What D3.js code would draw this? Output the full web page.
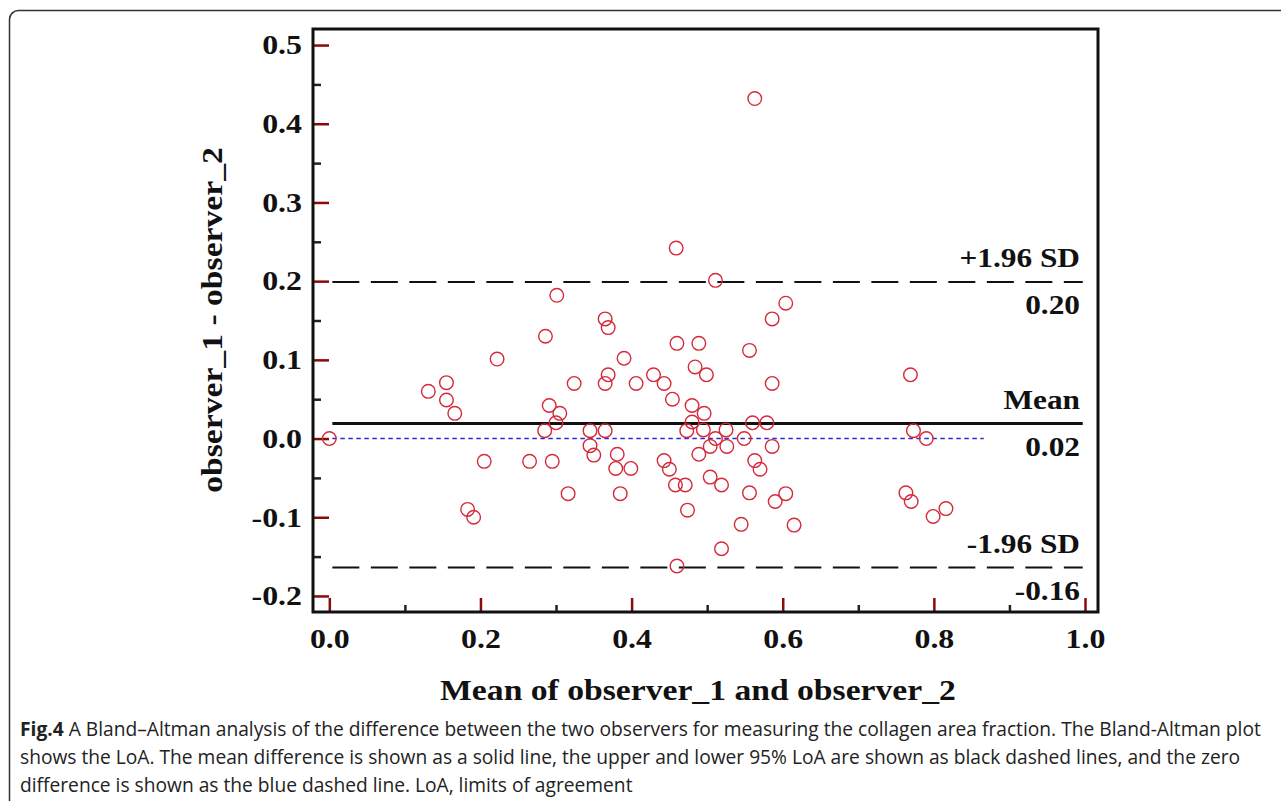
<!DOCTYPE html>
<html>
<head>
<meta charset="utf-8">
<script src="https://cdn.jsdelivr.net/npm/d3@7"></script>
<style>
  body { margin: 0; background: #fff; }
  svg { display: block; }
</style>
</head>
<body>
<svg id="chart" width="1281" height="801"></svg>
<script>
// mean of the two observers (x) and their difference (y)
var meanVals = [0.000, 0.131, 0.155, 0.155, 0.166, 0.222, 0.205, 0.183, 0.191, 0.301,
                0.286, 0.365, 0.369, 0.390, 0.324, 0.369, 0.365, 0.406, 0.429, 0.443,
                0.291, 0.305, 0.300, 0.285, 0.345, 0.365, 0.345, 0.350, 0.265, 0.295,
                0.381, 0.379, 0.399, 0.443, 0.450, 0.316, 0.385, 0.460, 0.489, 0.556,
                0.484, 0.499, 0.586, 0.454, 0.480, 0.496, 0.480, 0.473, 0.495, 0.525,
                0.560, 0.579, 0.511, 0.504, 0.526, 0.549, 0.586, 0.489, 0.563, 0.570,
                0.458, 0.471, 0.504, 0.519, 0.556, 0.590, 0.604, 0.474, 0.545, 0.519,
                0.460, 0.563, 0.459, 0.511, 0.604, 0.586, 0.769, 0.773, 0.790, 0.615,
                0.763, 0.770, 0.799, 0.816];
var diffVals = [0.000, 0.060, 0.071, 0.049, 0.032, 0.101, -0.029, -0.090, -0.100, 0.182,
                0.130, 0.152, 0.141, 0.102, 0.070, 0.081, 0.070, 0.070, 0.081, 0.070,
                0.042, 0.032, 0.020, 0.010, 0.010, 0.010, -0.009, -0.021, -0.029, -0.029,
                -0.020, -0.038, -0.038, -0.028, -0.039, -0.070, -0.070, 0.121, 0.121, 0.112,
                0.091, 0.081, 0.070, 0.050, 0.042, 0.032, 0.021, 0.010, 0.011, 0.011,
                0.020, 0.020, 0.000, -0.010, -0.010, 0.000, -0.010, -0.020, -0.028, -0.039,
                -0.059, -0.059, -0.049, -0.059, -0.069, -0.080, -0.070, -0.091, -0.109, -0.140,
                -0.162, 0.432, 0.242, 0.201, 0.172, 0.152, 0.081, 0.010, 0.000, -0.110,
                -0.069, -0.080, -0.099, -0.089];

// reference lines: value, label, printed value
var refNames  = ['+1.96 SD', 'Mean', '-1.96 SD'];
var refVals   = [0.199, 0.019, -0.164];
var refLabels = ['0.20', '0.02', '-0.16'];
var lineExtent = [0.004, 0.997];
var zeroExtent = [0.004, 0.866];

var xTicks = [0.0, 0.2, 0.4, 0.6, 0.8, 1.0];
var xMinor = [0.1, 0.3, 0.5, 0.7, 0.9];
var yTicks = [-0.2, -0.1, 0.0, 0.1, 0.2, 0.3, 0.4, 0.5];
var yMinor = [-0.15, -0.05, 0.05, 0.15, 0.25, 0.35, 0.45];

var xTitle = 'Mean of observer_1 and observer_2';
var yTitle = 'observer_1 - observer_2';

var serif = '"Liberation Serif", "Times New Roman", serif';
var stretch = 1.16;   // the figure's serif text is a bit wide

var svg = d3.select('#chart');

// outer figure border
svg.append('rect')
   .attr('x', 9.5).attr('y', 10.5)
   .attr('width', 1300).attr('height', 820)
   .attr('rx', 9)
   .attr('fill', 'none')
   .attr('stroke', '#333')
   .attr('stroke-width', 1.5);

var pLeft = 313, pRight = 1098, pTop = 29, pBottom = 612;

var x = d3.scaleLinear().domain([-0.0216, 1.0172]).range([pLeft, pRight]);
var y = d3.scaleLinear().domain([-0.2204, 0.5204]).range([pBottom, pTop]);

var plot = svg.append('g');

// plain hyphen for negatives, like the figure
var fmt = function(d) { return d3.format('.1f')(d).replace('\u2212', '-'); };

// widen serif text horizontally
function widen(sel) {
   sel.each(function() {
      var w = this.getComputedTextLength();
      d3.select(this).attr('textLength', w * stretch).attr('lengthAdjust', 'spacingAndGlyphs');
   });
}

function serifText(sel, size) {
   return sel.attr('font-family', serif).attr('font-weight', 'bold')
             .attr('font-size', size).attr('fill', '#111');
}

// ticks, pointing inward
function tickLines(axis, vals, len, color) {
   var g = plot.append('g').call(axis.tickValues(vals).tickSize(-len).tickFormat(''));
   g.select('.domain').remove();
   g.selectAll('line').attr('stroke', color).attr('stroke-width', 2.5);
   return g;
}
tickLines(d3.axisLeft(y), yTicks, 16, '#8b0a0a').attr('transform', 'translate(' + pLeft + ',0)');
tickLines(d3.axisLeft(y), yMinor, 8, '#222').attr('transform', 'translate(' + pLeft + ',0)');
tickLines(d3.axisBottom(x), xTicks, 14, '#8b0a0a').attr('transform', 'translate(0,' + pBottom + ')');
tickLines(d3.axisBottom(x), xMinor, 7, '#222').attr('transform', 'translate(0,' + pBottom + ')');

// tick labels
var yAxis = plot.append('g')
   .attr('transform', 'translate(' + pLeft + ',0)')
   .call(d3.axisLeft(y).tickValues(yTicks).tickSize(0).tickPadding(11).tickFormat(fmt));
yAxis.select('.domain').remove();
serifText(yAxis.selectAll('text'), 27.5).call(widen);

var xAxis = plot.append('g')
   .attr('transform', 'translate(0,' + pBottom + ')')
   .call(d3.axisBottom(x).tickValues(xTicks).tickSize(0).tickPadding(16).tickFormat(fmt));
xAxis.select('.domain').remove();
serifText(xAxis.selectAll('text'), 27.5).call(widen);

// reference lines
plot.selectAll('.ref')
   .data(refVals)
   .enter()
   .append('line')
      .attr('class', 'ref')
      .attr('x1', x(lineExtent[0]))
      .attr('x2', x(lineExtent[1]))
      .attr('y1', function(d){return y(d)})
      .attr('y2', function(d){return y(d)})
      .attr('stroke', '#111')
      .attr('stroke-width', function(d, i){return i == 1 ? 3 : 2})
      .attr('stroke-dasharray', function(d, i){return i == 1 ? null : '27,11.5'});

plot.append('line')
   .attr('x1', x(zeroExtent[0])).attr('x2', x(zeroExtent[1]))
   .attr('y1', y(0)).attr('y2', y(0))
   .attr('stroke', '#2a2ad8')
   .attr('stroke-width', 1.6)
   .attr('stroke-dasharray', '4.5,3.5');

// labels above and below each line
refNames.forEach(function(name, i) {
   serifText(plot.append('text'), 27)
      .attr('x', 1080).attr('y', y(refVals[i]) - 15)
      .attr('text-anchor', 'end')
      .text(name)
      .call(widen);
   serifText(plot.append('text'), 27)
      .attr('x', 1080).attr('y', y(refVals[i]) + 32)
      .attr('text-anchor', 'end')
      .text(refLabels[i])
      .call(widen);
});

// data points
plot.selectAll('circle')
   .data(meanVals)
   .enter()
   .append('circle')
      .attr('cx', function(d){return x(d)})
      .attr('cy', function(d, i){return y(diffVals[i])})
      .attr('r', 6.8)
      .attr('fill', 'none')
      .attr('stroke', '#d42a3a')
      .attr('stroke-width', 1.4);

// frame
plot.append('rect')
   .attr('x', pLeft).attr('y', pTop)
   .attr('width', pRight - pLeft).attr('height', pBottom - pTop)
   .attr('fill', 'none')
   .attr('stroke', '#111')
   .attr('stroke-width', 3);

// axis titles
serifText(svg.append('text'), 29)
   .attr('x', 698).attr('y', 700)
   .attr('text-anchor', 'middle')
   .text(xTitle)
   .call(widen);

serifText(svg.append('text'), 29)
   .attr('transform', 'translate(222,320) rotate(-90)')
   .attr('text-anchor', 'middle')
   .text(yTitle)
   .call(widen);

// caption
var caption = [
   [['Fig.4', true], [' A Bland\u2013Altman analysis of the difference between the two observers for measuring the collagen area fraction. The Bland-Altman plot', false]],
   [['shows the LoA. The mean difference is shown as a solid line, the upper and lower 95% LoA are shown as black dashed lines, and the zero', false]],
   [['difference is shown as the blue dashed line. LoA, limits of agreement', false]]
];
var cap = svg.append('g')
   .attr('font-family', '"Open Sans", "Noto Sans", sans-serif')
   .attr('font-size', 19.2)
   .attr('fill', '#222');
caption.forEach(function(parts, i) {
   var t = cap.append('text').attr('x', 20).attr('y', 736 + i * 28);
   parts.forEach(function(p) {
      t.append('tspan').attr('font-weight', p[1] ? 'bold' : 'normal').text(p[0]);
   });
});
</script>
</body>
</html>
